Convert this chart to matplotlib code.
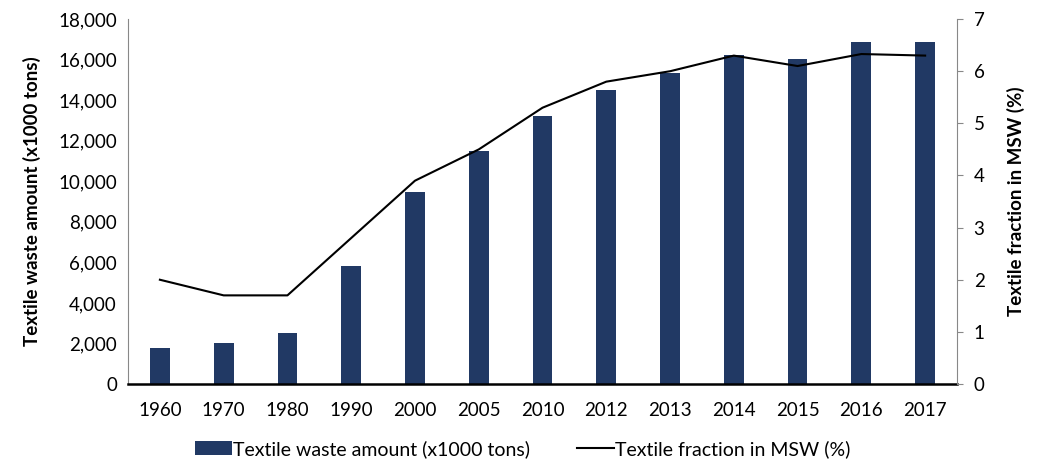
import matplotlib; matplotlib.use("Agg")
import matplotlib.pyplot as plt
import numpy as np
from matplotlib.ticker import FuncFormatter

years = ["1960", "1970", "1980", "1990", "2000", "2005", "2010", "2012", "2013", "2014", "2015", "2016", "2017"]
waste_amount = [1760, 2040, 2530, 5810, 9480, 11510, 13220, 14500, 15350, 16220, 16030, 16890, 16890]
msw_fraction = [2.0, 1.7, 1.7, 2.8, 3.9, 4.5, 5.3, 5.8, 6.0, 6.3, 6.1, 6.33, 6.3]

plt.rcParams["font.family"] = ["Lato", "DejaVu Sans"]
fig = plt.figure(figsize=(10.45, 4.66), dpi=100)
ax = fig.add_axes([0.1225, 0.176, 0.7933, 0.783])
x = np.arange(len(years))
bars = ax.bar(x, waste_amount, width=0.31, color="#213964", label="Textile waste amount (x1000 tons)")
ax.set_xlim(-0.5, len(years) - 0.5)
ax.set_ylim(0, 18000)
ax.set_yticks(range(0, 18001, 2000))
ax.yaxis.set_major_formatter(FuncFormatter(lambda v, p: f"{int(v):,}"))
ax.set_xticks(x)
ax.set_xticklabels(years)
ax.tick_params(axis="x", length=0, pad=13, labelsize=13.5)
ax.tick_params(axis="y", length=0, pad=8, labelsize=13.5)
ax.set_ylabel("Textile waste amount (x1000 tons)", fontsize=13.5, fontweight="bold", labelpad=12)
for s in ["top", "right"]:
    ax.spines[s].set_visible(False)
ax.spines["left"].set_color("#888888")
ax.spines["bottom"].set_color("black")
ax.spines["bottom"].set_linewidth(1.8)

ax2 = ax.twinx()
line, = ax2.plot(x, msw_fraction, color="black", lw=1.5, label="Textile fraction in MSW (%)")
ax2.set_ylim(0, 7)
ax2.set_yticks(range(0, 8))
ax2.tick_params(axis="y", length=4, direction="out", color="#888888", pad=8, labelsize=13.5)
ax2.set_ylabel("Textile fraction in MSW (%)", fontsize=13.5, fontweight="bold", labelpad=16)
for s in ["top", "left", "bottom"]:
    ax2.spines[s].set_visible(False)
ax2.spines["right"].set_color("#888888")

fig.legend([bars, line], [bars.get_label(), line.get_label()], loc="lower center",
           bbox_to_anchor=(0.5, -0.02), ncol=2, frameon=False, fontsize=14,
           handlelength=1.9, handleheight=0.75, handletextpad=0.05, columnspacing=2.4)
fig.savefig("out.png", dpi=100)
